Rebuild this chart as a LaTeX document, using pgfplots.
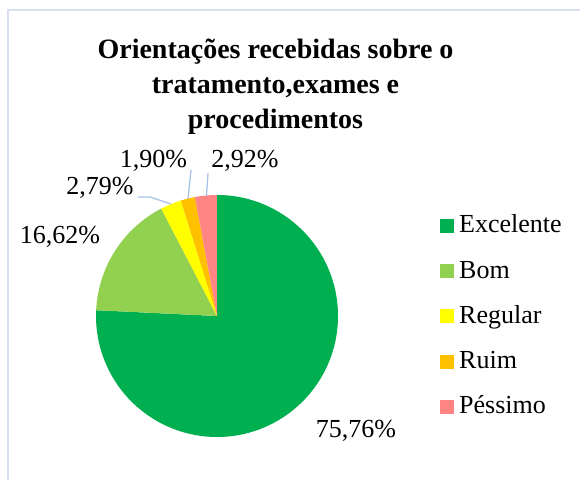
\documentclass[border=0pt]{standalone}
\usepackage{pgfplots}
\usepackage{pgfplotstable}
\pgfplotsset{compat=1.18}
\usepackage{fontspec}
\setmainfont{Liberation Serif}
\definecolor{cExc}{HTML}{00B050}
\definecolor{cBom}{HTML}{92D050}
\definecolor{cReg}{HTML}{FFFF00}
\definecolor{cRui}{HTML}{FFC000}
\definecolor{cPes}{HTML}{FF8585}
\definecolor{frameC}{HTML}{D6E0EF}
\definecolor{leadC}{HTML}{A9C4E8}
% name, percentage, colour, label x, label baseline y
\pgfplotstableread[col sep=comma]{
name,value,color,lx,ly,label
Excelente,75.76,cExc,356,42,{75,76\%}
Bom,16.62,cBom,60,236,{16,62\%}
Regular,2.79,cReg,100,285,{2,79\%}
Ruim,1.90,cRui,153.5,312,{1,90\%}
Péssimo,2.92,cPes,245,312,{2,92\%}
}\piedata
\begin{document}
\begin{tikzpicture}
\begin{axis}[
  x=1bp, y=1bp, xmin=0, xmax=580, ymin=0, ymax=480,
  hide axis, clip=false, scale only axis,
]
\addplot[draw=none, forget plot] coordinates {(0,0) (580,480)};
\pgfplotsextra{
  \path[use as bounding box] (axis cs:0,0) rectangle (axis cs:580,480);
  \draw[frameC, line width=2bp] (axis cs:8,0) -- (axis cs:8,470) -- (axis cs:582,470);
  \xdef\cumangle{90}
  \foreach \i in {0,...,4}{
    \pgfplotstablegetelem{\i}{value}\of\piedata \let\sliceval\pgfplotsretval
    \pgfplotstablegetelem{\i}{color}\of\piedata \let\slicecol\pgfplotsretval
    \pgfmathsetmacro\endangle{\cumangle - 3.6*\sliceval}
    \fill[fill=\slicecol] (axis cs:217,164) -- ++(\cumangle:121bp)
      arc[start angle=\cumangle, end angle=\endangle, radius=121bp] -- cycle;
    \xdef\cumangle{\endangle}
  }
  % leader lines
  \draw[leadC, line width=1.3bp] (axis cs:138,283) -- (axis cs:150,283) -- (axis cs:171,276);
  \draw[leadC, line width=1.3bp] (axis cs:191,310) -- (axis cs:188,281);
  \draw[leadC, line width=1.3bp] (axis cs:208,307) -- (axis cs:206.5,284);
  % labels
  \foreach \i in {0,...,4}{
    \pgfplotstablegetelem{\i}{lx}\of\piedata \let\labx\pgfplotsretval
    \pgfplotstablegetelem{\i}{ly}\of\piedata \let\laby\pgfplotsretval
    \pgfplotstablegetelem{\i}{label}\of\piedata \let\labt\pgfplotsretval
    \node[anchor=base, inner sep=0pt, font=\fontsize{26bp}{30bp}\selectfont]
      at (axis cs:\labx,\laby) {\labt};
  }
  % legend
  \foreach \i in {0,...,4}{
    \pgfplotstablegetelem{\i}{name}\of\piedata \let\legn\pgfplotsretval
    \pgfplotstablegetelem{\i}{color}\of\piedata \let\legc\pgfplotsretval
    \pgfmathsetmacro\legy{247 - 45.2*\i}
    \fill[fill=\legc] (axis cs:440,\legy) rectangle (axis cs:454,\legy+14);
    \node[anchor=base west, inner sep=0pt, font=\fontsize{26bp}{30bp}\selectfont]
      at (axis cs:459,\legy) {\legn};
  }
  % title
  \node[anchor=base, inner sep=0pt, font=\bfseries\fontsize{28bp}{35bp}\selectfont]
    at (axis cs:275.5,421) {Orientações recebidas sobre o};
  \node[anchor=base, inner sep=0pt, font=\bfseries\fontsize{28bp}{35bp}\selectfont]
    at (axis cs:275.5,386) {tratamento,exames e};
  \node[anchor=base, inner sep=0pt, font=\bfseries\fontsize{28bp}{35bp}\selectfont]
    at (axis cs:275.5,351) {procedimentos};
}
\end{axis}
\end{tikzpicture}
\end{document}
